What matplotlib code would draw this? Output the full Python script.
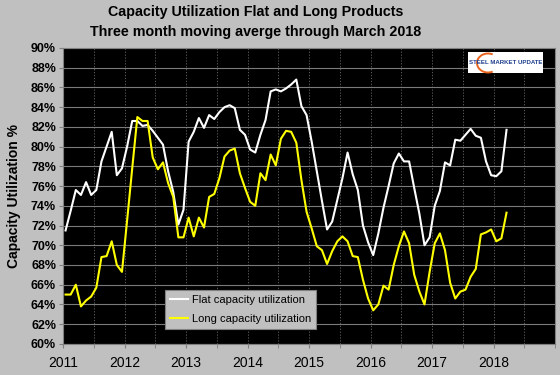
import matplotlib
matplotlib.use("Agg")
import matplotlib.pyplot as plt
import numpy as np
from matplotlib.patches import Arc
from matplotlib.ticker import MultipleLocator, PercentFormatter

plt.rcParams['font.family'] = ['Liberation Sans', 'DejaVu Sans']

# monthly three month moving averages, Jan 2011 .. Mar 2018
flat = [71.5, 73.5, 75.6, 75.1, 76.4, 75.1, 75.6, 78.5, 80.0, 81.5, 77.1, 77.8,
        80.0, 82.6, 82.6, 82.1, 82.2, 81.6, 80.9, 80.2, 77.5, 75.4, 72.1, 73.6,
        80.5, 81.5, 82.9, 81.9, 83.2, 82.8, 83.5, 84.0, 84.2, 83.9, 81.7, 81.2,
        79.7, 79.4, 81.2, 82.7, 85.6, 85.8, 85.6, 85.9, 86.3, 86.8, 84.1, 83.2,
        80.5, 77.5, 74.5, 71.6, 72.4, 74.6, 76.8, 79.4, 77.2, 75.6, 72.0, 70.3,
        69.0, 71.2, 73.8, 76.0, 78.3, 79.3, 78.5, 78.5, 75.8, 73.2, 70.0, 70.8,
        74.0, 75.5, 78.4, 78.1, 80.7, 80.6, 81.2, 81.8, 81.1, 80.9, 78.5, 77.1,
        77.0, 77.5, 81.7]
long_ = [65.0, 65.0, 66.0, 63.8, 64.4, 64.8, 65.7, 68.8, 68.9, 70.4, 68.0, 67.3,
         72.5, 77.8, 83.0, 82.6, 82.6, 78.9, 77.7, 78.4, 76.3, 74.9, 70.8, 70.8,
         72.8, 70.9, 72.8, 71.8, 74.9, 75.2, 76.8, 79.0, 79.6, 79.8, 77.3, 75.8,
         74.4, 74.0, 77.3, 76.6, 79.2, 78.1, 80.8, 81.6, 81.5, 80.4, 76.6, 73.4,
         71.7, 69.9, 69.5, 68.1, 69.4, 70.4, 70.9, 70.4, 68.9, 68.8, 66.5, 64.6,
         63.4, 64.0, 65.9, 65.5, 68.0, 69.9, 71.4, 70.2, 67.0, 65.3, 64.0, 67.3,
         70.2, 71.2, 69.5, 66.2, 64.6, 65.3, 65.5, 66.8, 67.6, 71.1, 71.3, 71.6,
         70.4, 70.7, 73.3]
years = list(range(2011, 2019))

# dates as fractional years, mid-month
t = 2011 + (np.arange(len(flat)) + 0.5) / 12

bg = '#c0c0c0'
fig = plt.figure(figsize=(5.6, 3.75), dpi=100, facecolor=bg)
ax = fig.add_axes([0.1125, 0.083, 0.879, 0.789])
ax.set_facecolor('black')

ax.plot(t, flat, color='white', lw=1.5, label='Flat capacity utilization')
ax.plot(t, long_, color='#ffff00', lw=1.5, label='Long capacity utilization')

ax.set_xlim(2011, 2019)
ax.set_ylim(60, 90)
ax.set_xticks(years)
ax.set_xticklabels([str(y) for y in years], fontsize=10)
ax.xaxis.set_minor_locator(MultipleLocator(0.5))
ax.yaxis.set_major_locator(MultipleLocator(2))
ax.yaxis.set_major_formatter(PercentFormatter(decimals=0))
for lbl in ax.get_yticklabels():
    lbl.set_fontweight('bold')
    lbl.set_fontsize(9)
ax.tick_params(axis='x', which='both', length=3, color='#808080', pad=6)
ax.tick_params(axis='y', length=3, color='#808080', pad=2)

ax.grid(axis='y', color='#7a7a7a', lw=0.8, ls='-')
ax.grid(axis='x', which='both', color='#6a6a6a', lw=0.6, ls=(0, (1.5, 2)))
ax.set_axisbelow(True)
for s in ax.spines.values():
    s.set_color('#808080')

ax.set_ylabel('Capacity Utilization %', fontsize=10, fontweight='bold', labelpad=7)

fig.text(0.457, 0.967, 'Capacity Utilization Flat and Long Products', ha='center', va='center',
         fontsize=10.3, fontweight='bold')
fig.text(0.457, 0.915, 'Three month moving averge through March 2018', ha='center', va='center',
         fontsize=10.3, fontweight='bold')

leg = ax.legend(loc='lower left', bbox_to_anchor=(0.207, 0.05), fontsize=8, facecolor=bg,
                edgecolor='#808080', framealpha=1, fancybox=False, handlelength=1.6,
                handletextpad=0.3, labelspacing=0.75, borderpad=0.5, borderaxespad=0)
leg.get_frame().set_linewidth(0.8)

# logo box
fig.patches.append(plt.Rectangle((468 / 560, 1 - 73 / 375), 75 / 560, 21 / 375,
                                 transform=fig.transFigure, facecolor='white', edgecolor='none'))
fig.patches.append(Arc((488 / 560, 1 - 63 / 375), 22 / 560, 19 / 375, theta1=70, theta2=290,
                       transform=fig.transFigure, color='#e8641e', lw=1.4))
fig.text(506 / 560, 1 - 63 / 375, 'STEEL MARKET UPDATE', ha='center', va='center',
         fontsize=4.4, color='#1f3f8f', fontweight='bold', zorder=5)

fig.savefig('out.png', dpi=100, facecolor=bg)
